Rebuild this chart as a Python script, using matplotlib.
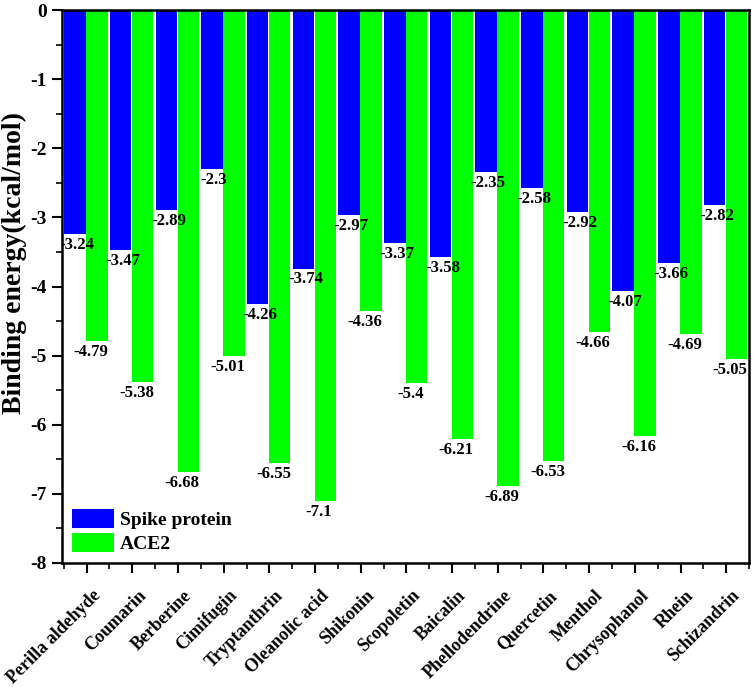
import matplotlib
matplotlib.use('Agg')
import matplotlib.pyplot as plt
import matplotlib.transforms as mtransforms
import numpy as np

plt.rcParams['font.family'] = ['Liberation Serif', 'DejaVu Serif']
plt.rcParams['font.weight'] = 'bold'
plt.rcParams['axes.unicode_minus'] = False

compounds = ['Perilla aldehyde', 'Coumarin', 'Berberine', 'Cimifugin', 'Tryptanthrin',
             'Oleanolic acid', 'Shikonin', 'Scopoletin', 'Baicalin', 'Phellodendrine',
             'Quercetin', 'Menthol', 'Chrysophanol', 'Rhein', 'Schizandrin']
spike = [-3.24, -3.47, -2.89, -2.3, -4.26, -3.74, -2.97, -3.37, -3.58, -2.35,
         -2.58, -2.92, -4.07, -3.66, -2.82]
ace2 = [-4.79, -5.38, -6.68, -5.01, -6.55, -7.1, -4.36, -5.4, -6.21, -6.89,
        -6.53, -4.66, -6.16, -4.69, -5.05]

x = np.arange(len(compounds))
w = 0.47

fig = plt.figure(figsize=(7.54, 6.87), dpi=100)
ax = fig.add_axes([0.0822, 0.1805, 0.9112, 0.8049])

ax.bar(x - 0.255, spike, w, color='#0000FF', label='Spike protein')
ax.bar(x + 0.225, ace2, w, color='#00FF00', label='ACE2')

for i in range(len(x)):
    ax.annotate('%g' % spike[i], (x[i] - 0.21, spike[i]), xytext=(0, -2),
                textcoords='offset points', ha='center', va='top',
                fontsize=12, fontweight='bold', annotation_clip=False, clip_on=True)
    ax.annotate('%g' % ace2[i], (x[i] + 0.09, ace2[i]), xytext=(0, -2),
                textcoords='offset points', ha='center', va='top',
                fontsize=12, fontweight='bold', clip_on=True)

ax.set_xlim(-0.54, 14.46)
ax.set_ylim(-8, 0)
ax.set_yticks(np.arange(-8, 1, 1))
ax.set_yticks(np.arange(-7.5, 0, 1), minor=True)
ax.set_xticks(x)
ax.set_xticks(np.arange(-0.5, 14.6, 1), minor=True)
ax.set_xticklabels([])

# rotated compound names under the ticks
off = mtransforms.ScaledTranslation(5 / 100, -24 / 100, fig.dpi_scale_trans)
for i, name in enumerate(compounds):
    ax.text(x[i], 0, name, transform=ax.get_xaxis_transform() + off,
            rotation=45, ha='right', va='top', rotation_mode='anchor',
            fontsize=13, fontweight='bold')

ax.tick_params(axis='y', labelsize=14, pad=4)
ax.tick_params(which='major', length=7, width=1.5, direction='out')
ax.tick_params(which='minor', length=4, width=1.2, direction='out')
for s in ax.spines.values():
    s.set_linewidth(1.8)

ax.set_ylabel('Binding energy(kcal/mol)', fontsize=20, fontweight='bold', va='top')
ax.yaxis.set_label_coords(-0.087, 0.542)

ax.legend(loc='lower left', frameon=False, fontsize=14, handlelength=2.2,
          handleheight=1.1, handletextpad=0.3, labelspacing=0.2,
          borderpad=0.25, borderaxespad=0.25)

fig.savefig('out.png', dpi=100)
